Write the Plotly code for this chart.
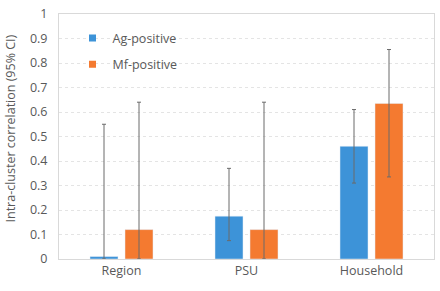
import plotly.graph_objects as go

categories = ["Region", "PSU", "Household"]
ag_values = [0.01, 0.175, 0.46]
ag_lower = [0.0, 0.075, 0.31]
ag_upper = [0.55, 0.37, 0.61]
mf_values = [0.12, 0.12, 0.635]
mf_lower = [0.0, 0.0, 0.335]
mf_upper = [0.64, 0.64, 0.855]
y_ticks = [0, 0.1, 0.2, 0.3, 0.4, 0.5, 0.6, 0.7, 0.8, 0.9, 1]
y_tick_labels = ["0", "0.1", "0.2", "0.3", "0.4", "0.5", "0.6", "0.7", "0.8", "0.9", "1"]
y_title = "Intra-cluster correlation (95% CI)"

AG_COLOR = "#3d93d8"
MF_COLOR = "#f47a30"

def err(values, lower, upper):
    return dict(type="data", symmetric=False,
                array=[u - v for u, v in zip(upper, values)],
                arrayminus=[v - l for v, l in zip(values, lower)],
                color="#6b6b6b", thickness=1, width=2)

fig = go.Figure()
fig.add_trace(go.Bar(name="Ag-positive", x=categories, y=ag_values,
                     showlegend=False, marker=dict(color=AG_COLOR),
                     error_y=err(ag_values, ag_lower, ag_upper)))
fig.add_trace(go.Bar(name="Mf-positive", x=categories, y=mf_values,
                     showlegend=False, marker=dict(color=MF_COLOR),
                     error_y=err(mf_values, mf_lower, mf_upper)))
# legend proxies (small square swatches)
fig.add_trace(go.Scatter(name="Ag-positive", x=[None], y=[None], mode="markers",
                         legendgroup="ag",
                         marker=dict(symbol="square", size=7, color=AG_COLOR)))
fig.add_trace(go.Scatter(name="Mf-positive", x=[None], y=[None], mode="markers",
                         legendgroup="mf",
                         marker=dict(symbol="square", size=7, color=MF_COLOR)))

fig.update_layout(
    width=440, height=291,
    margin=dict(l=59, r=6, t=14, b=32),
    paper_bgcolor="white", plot_bgcolor="white",
    barmode="group", bargap=0.44, bargroupgap=0.2,
    font=dict(family="Open Sans, Liberation Sans, sans-serif", color="#595959", size=12),
    legend=dict(x=0.036, y=0.962, xanchor="left", yanchor="top",
                bgcolor="rgba(0,0,0,0)", font=dict(size=12.5, color="#595959"),
                itemwidth=30, tracegroupgap=7),
    showlegend=True,
    annotations=[dict(text=y_title, textangle=-90, x=0, xref="paper", y=0.5, yref="paper",
                      xanchor="center", yanchor="middle", xshift=-49, yshift=8,
                      showarrow=False, font=dict(size=12.5, color="#595959"))],
)
fig.update_xaxes(showline=True, linecolor="#d9d9d9", linewidth=1, mirror=True,
                 ticks="", automargin=False, tickfont=dict(size=12.5, color="#595959"))
fig.update_yaxes(range=[0, 1], tickvals=y_ticks, ticktext=y_tick_labels,
                 showgrid=True, gridcolor="#e4e4e4", griddash="dot", gridwidth=1,
                 showline=True, linecolor="#d9d9d9", linewidth=1, mirror=True,
                 zeroline=False, ticks="", ticklabelstandoff=8, automargin=False,
                 tickfont=dict(size=12.5, color="#595959"))

# remove the default page body margin so the figure fills the window exactly
fig.write_html("out.html", config={"displayModeBar": False},
               post_script="document.body.style.margin='0';")
